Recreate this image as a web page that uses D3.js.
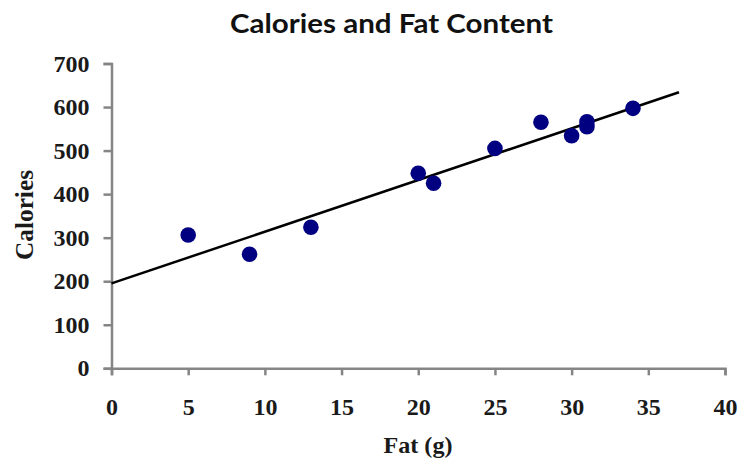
<!DOCTYPE html>
<html><head><meta charset="utf-8">
<script src="https://cdn.jsdelivr.net/npm/d3@7"></script>
<style>body{margin:0;background:#fff}</style>
</head><body>
<svg id="c" width="741" height="466"></svg>
<script>
const fat = [5, 9, 13, 20, 21, 25, 28, 30, 31, 31, 34];
const calories = [306, 262, 324, 448, 425, 505, 565, 534, 566, 555, 597];
const trendFat = [0, 37];
const trendCal = [195, 634];
const xTicks = [0, 5, 10, 15, 20, 25, 30, 35, 40];
const yTicks = [0, 100, 200, 300, 400, 500, 600, 700];

const svg = d3.select("#c");
const x = d3.scaleLinear().domain([0, 40]).range([111.5, 725]);
const y = d3.scaleLinear().domain([0, 700]).range([368.3, 63.5]);

const serif = "'Liberation Serif','Times New Roman',serif";
const axisColor = "#858585";

const xa = svg.append("g").attr("transform", "translate(0,368.3)")
  .call(d3.axisBottom(x).tickValues(xTicks).tickSize(7).tickPadding(22));
const ya = svg.append("g").attr("transform", "translate(111.5,0)")
  .call(d3.axisLeft(y).tickValues(yTicks).tickSize(8).tickPadding(14));
[xa, ya].forEach(a => {
  a.select(".domain").attr("stroke", axisColor).attr("stroke-width", 2.5);
  a.selectAll(".tick line").attr("stroke", axisColor).attr("stroke-width", 2.5);
  a.selectAll(".tick text").attr("font-family", serif).attr("font-weight", "bold")
    .attr("font-size", 24).attr("fill", "#1a1a1a");
});
xa.selectAll(".tick text").attr("dy", null).attr("y", 46.5);

svg.append("line")
  .attr("x1", x(trendFat[0])).attr("y1", y(trendCal[0]))
  .attr("x2", x(trendFat[1])).attr("y2", y(trendCal[1]))
  .attr("stroke", "#000").attr("stroke-width", 2.5);

svg.append("g").selectAll("circle").data(fat).join("circle")
  .attr("cx", (d) => x(d)).attr("cy", (d, i) => y(calories[i]))
  .attr("r", 7.8).attr("fill", "#000080");

svg.append("text").attr("x", 391.5).attr("y", 32.5).attr("text-anchor", "middle")
  .attr("font-family", "Lato, 'Open Sans', sans-serif").attr("font-weight", "bold")
  .attr("font-size", 26.5).attr("fill", "#111")
  .attr("textLength", 323).attr("lengthAdjust", "spacingAndGlyphs")
  .text("Calories and Fat Content");

svg.append("text").attr("x", 418).attr("y", 453).attr("text-anchor", "middle")
  .attr("font-family", serif).attr("font-weight", "bold")
  .attr("font-size", 23).attr("fill", "#1a1a1a")
  .attr("textLength", 69).attr("lengthAdjust", "spacingAndGlyphs")
  .text("Fat (g)");

svg.append("text").attr("transform", "translate(33,215) rotate(-90)")
  .attr("text-anchor", "middle")
  .attr("font-family", serif).attr("font-weight", "bold")
  .attr("font-size", 25).attr("fill", "#1a1a1a")
  .attr("textLength", 90).attr("lengthAdjust", "spacingAndGlyphs")
  .text("Calories");
</script>
</body></html>
